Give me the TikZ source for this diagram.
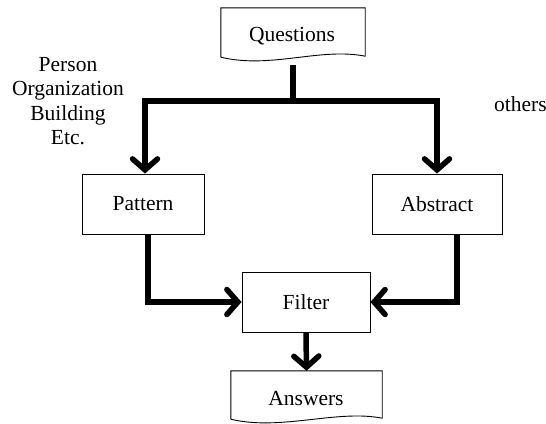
\documentclass[tikz,border=0pt]{standalone}
\usepackage{fontspec}
\setmainfont{Liberation Serif}
\usetikzlibrary{arrows.meta,calc}
\begin{document}
\begin{tikzpicture}[x=1pt,y=-1pt,
  every node/.style={font=\fontsize{21.5}{24.5}\selectfont},
  procbox/.style={draw, line width=0.9pt, minimum width=#1, minimum height=60, inner sep=0pt},
  docnode/.style={minimum width=#1, minimum height=#1, inner sep=0pt},
  flow/.style={line width=5.5pt, line join=miter, -{Straight Barb[length=11pt,width=25pt,line cap=round]}},
  flowline/.style={line width=5.5pt, line join=miter},
  label/.style={align=center, inner sep=0pt}
]
\useasboundingbox (0,0) rectangle (546,423);
\begin{scope}
\clip (0,0) rectangle (546,423);
% Questions document
\node[minimum width=144, minimum height=49, inner sep=0pt] (Q) at (293,32.5) {};
\node[inner sep=0pt] (Qt) at (292,36) {Questions};
\draw[line width=0.9pt] (Q.south west) -- (Q.north west) -- (Q.north east) -- ($(Q.south east)+(0,-1)$)
  .. controls ($(Q.south east)+(-45,-10)$) and ($(Q.south west)+(50,12)$) .. (Q.south west);
% boxes
\node[procbox=122] (P) at (143,204) {Pattern};
\node[procbox=130] (A) at (437,204) {Abstract};
\node[procbox=128] (F) at (306,302) {Filter};
% Answers document
\node[minimum width=151, minimum height=48, inner sep=0pt] (An) at (306.5,395) {};
\node[inner sep=0pt] (Ant) at (306,399) {Answers};
\draw[line width=0.9pt] (An.south west) -- (An.north west) -- (An.north east) -- ($(An.south east)+(0,-1)$)
  .. controls ($(An.south east)+(-45,-10)$) and ($(An.south west)+(50,12)$) .. (An.south west);
% labels
\node[label] (L1) at (68,101) {Person\\Organization\\Building\\Etc.};
\node[label, anchor=west] (L2) at (494,104) {others};
% connectors
\coordinate (J) at (293,101);
\coordinate (Qs) at (293,65);
\draw[flowline] (Qs) -- (J);
\draw[flow] (J) -| ([xshift=2]P.north);
\draw[flow] (J) -| (A.north);
\draw[flow] ([xshift=5]P.south) |- (F.west);
\draw[flow] ([xshift=20]A.south) |- (F.east);
\draw[flow] (F.south) -- (An.north);
\end{scope}
\end{tikzpicture}
\end{document}
